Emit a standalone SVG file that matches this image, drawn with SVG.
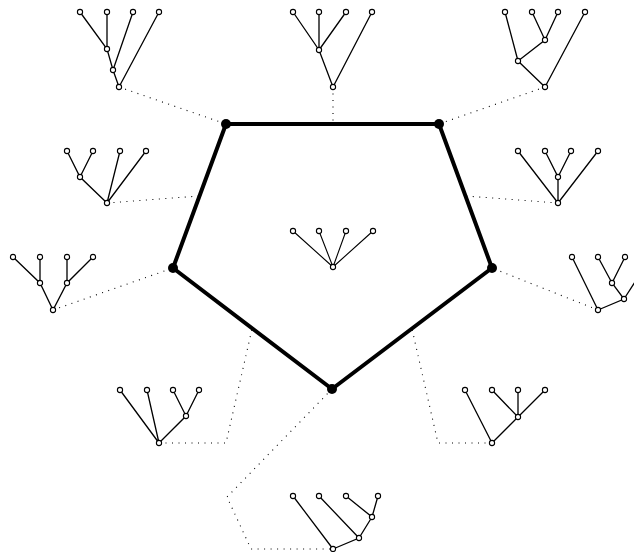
<svg xmlns="http://www.w3.org/2000/svg" width="634" height="552" viewBox="0 0 634 552">
<style>
.e{stroke:#000;stroke-width:1.3;fill:none}
.n{fill:#fff;stroke:#000;stroke-width:1.1}
.d{stroke:#000;stroke-width:1.1;fill:none;stroke-dasharray:1 5.5}
.p{stroke:#000;stroke-width:4;fill:none;stroke-linejoin:round}
.v{fill:#000}
</style>
<defs>
<circle id="c" r="2.6" class="n"/>
</defs>
<rect width="634" height="552" fill="#fff"/>
<g id="connectors">
<path class="d" d="M119,87 L226,124"/>
<path class="d" d="M333,87 L333,124"/>
<path class="d" d="M545,87 L439,124"/>
<path class="d" d="M107,203 L199,196"/>
<path class="d" d="M558,203 L466,196"/>
<path class="d" d="M53,310 L173,268"/>
<path class="d" d="M598,310 L492,268"/>
<path class="d" d="M159,443 L226,443 L252,329"/>
<path class="d" d="M492,443 L438,443 L412,329"/>
<path class="d" d="M332,389 L227,497 L251,549 L333,549"/>
</g>
<g id="pentagon">
<path class="p" d="M226,124 L439,124 L492,268 L332,389 L173,268 Z"/>
<circle class="v" cx="226" cy="124" r="5"/>
<circle class="v" cx="439" cy="124" r="5"/>
<circle class="v" cx="492" cy="268" r="5"/>
<circle class="v" cx="332" cy="389" r="5"/>
<circle class="v" cx="173" cy="268" r="5"/>
</g>
<g id="tree-top-left">
<path class="e" d="M80,12 L107,49 L113,70 L119,87 M107,12 L107,49 M133,12 L113,70 M159,12 L119,87"/>
<use href="#c" x="80" y="12"/><use href="#c" x="107" y="12"/><use href="#c" x="133" y="12"/><use href="#c" x="159" y="12"/>
<use href="#c" x="107" y="49"/><use href="#c" x="113" y="70"/><use href="#c" x="119" y="87"/>
</g>
<g id="tree-top">
<path class="e" d="M293,12 L319,50 L333,87 M319,12 L319,50 M346,12 L319,50 M372,12 L333,87"/>
<use href="#c" x="293" y="12"/><use href="#c" x="319" y="12"/><use href="#c" x="346" y="12"/><use href="#c" x="372" y="12"/>
<use href="#c" x="319" y="50"/><use href="#c" x="333" y="87"/>
</g>
<g id="tree-top-right">
<path class="e" d="M532,12 L545,40 L518,61 L545,87 M558,12 L545,40 M505,12 L518,61 M585,12 L545,87"/>
<use href="#c" x="505" y="12"/><use href="#c" x="532" y="12"/><use href="#c" x="558" y="12"/><use href="#c" x="585" y="12"/>
<use href="#c" x="545" y="40"/><use href="#c" x="518" y="61"/><use href="#c" x="545" y="87"/>
</g>
<g id="tree-left">
<path class="e" d="M67,151 L80,177 L107,203 M93,151 L80,177 M120,151 L107,203 M146,151 L107,203"/>
<use href="#c" x="67" y="151"/><use href="#c" x="93" y="151"/><use href="#c" x="120" y="151"/><use href="#c" x="146" y="151"/>
<use href="#c" x="80" y="177"/><use href="#c" x="107" y="203"/>
</g>
<g id="tree-right">
<path class="e" d="M545,151 L558,177 L558,203 M571,151 L558,177 M518,151 L558,203 M598,151 L558,203"/>
<use href="#c" x="518" y="151"/><use href="#c" x="545" y="151"/><use href="#c" x="571" y="151"/><use href="#c" x="598" y="151"/>
<use href="#c" x="558" y="177"/><use href="#c" x="558" y="203"/>
</g>
<g id="tree-lower-left">
<path class="e" d="M13,257 L40,283 L53,310 L67,283 L93,257 M40,257 L40,283 M67,257 L67,283"/>
<use href="#c" x="13" y="257"/><use href="#c" x="40" y="257"/><use href="#c" x="67" y="257"/><use href="#c" x="93" y="257"/>
<use href="#c" x="40" y="283"/><use href="#c" x="67" y="283"/><use href="#c" x="53" y="310"/>
</g>
<g id="tree-lower-right">
<path class="e" d="M598,257 L612,283 L624,299 L598,310 L572,257 M625,257 L612,283 M651,257 L624,299"/>
<use href="#c" x="572" y="257"/><use href="#c" x="598" y="257"/><use href="#c" x="625" y="257"/><use href="#c" x="651" y="257"/>
<use href="#c" x="612" y="283"/><use href="#c" x="624" y="299"/><use href="#c" x="598" y="310"/>
</g>
<g id="tree-bottom-left">
<path class="e" d="M173,390 L186,416 L159,443 M199,390 L186,416 M120,390 L159,443 M147,390 L159,443"/>
<use href="#c" x="120" y="390"/><use href="#c" x="147" y="390"/><use href="#c" x="173" y="390"/><use href="#c" x="199" y="390"/>
<use href="#c" x="186" y="416"/><use href="#c" x="159" y="443"/>
</g>
<g id="tree-bottom-right">
<path class="e" d="M492,390 L518,417 L492,443 M518,390 L518,417 M545,390 L518,417 M465,390 L492,443"/>
<use href="#c" x="465" y="390"/><use href="#c" x="492" y="390"/><use href="#c" x="518" y="390"/><use href="#c" x="545" y="390"/>
<use href="#c" x="518" y="417"/><use href="#c" x="492" y="443"/>
</g>
<g id="tree-bottom">
<path class="e" d="M346,496 L372,517 L359,538 L333,549 M378,496 L372,517 M319,496 L359,538 M293,496 L333,549"/>
<use href="#c" x="293" y="496"/><use href="#c" x="319" y="496"/><use href="#c" x="346" y="496"/><use href="#c" x="378" y="496"/>
<use href="#c" x="372" y="517"/><use href="#c" x="359" y="538"/><use href="#c" x="333" y="549"/>
</g>
<g id="tree-center">
<path class="e" style="stroke-width:1.1" d="M293,231 L333,267 M319,231 L333,267 M346,231 L333,267 M373,231 L333,267"/>
<use href="#c" x="293" y="231"/><use href="#c" x="319" y="231"/><use href="#c" x="346" y="231"/><use href="#c" x="373" y="231"/>
<use href="#c" x="333" y="267"/>
</g>
</svg>
